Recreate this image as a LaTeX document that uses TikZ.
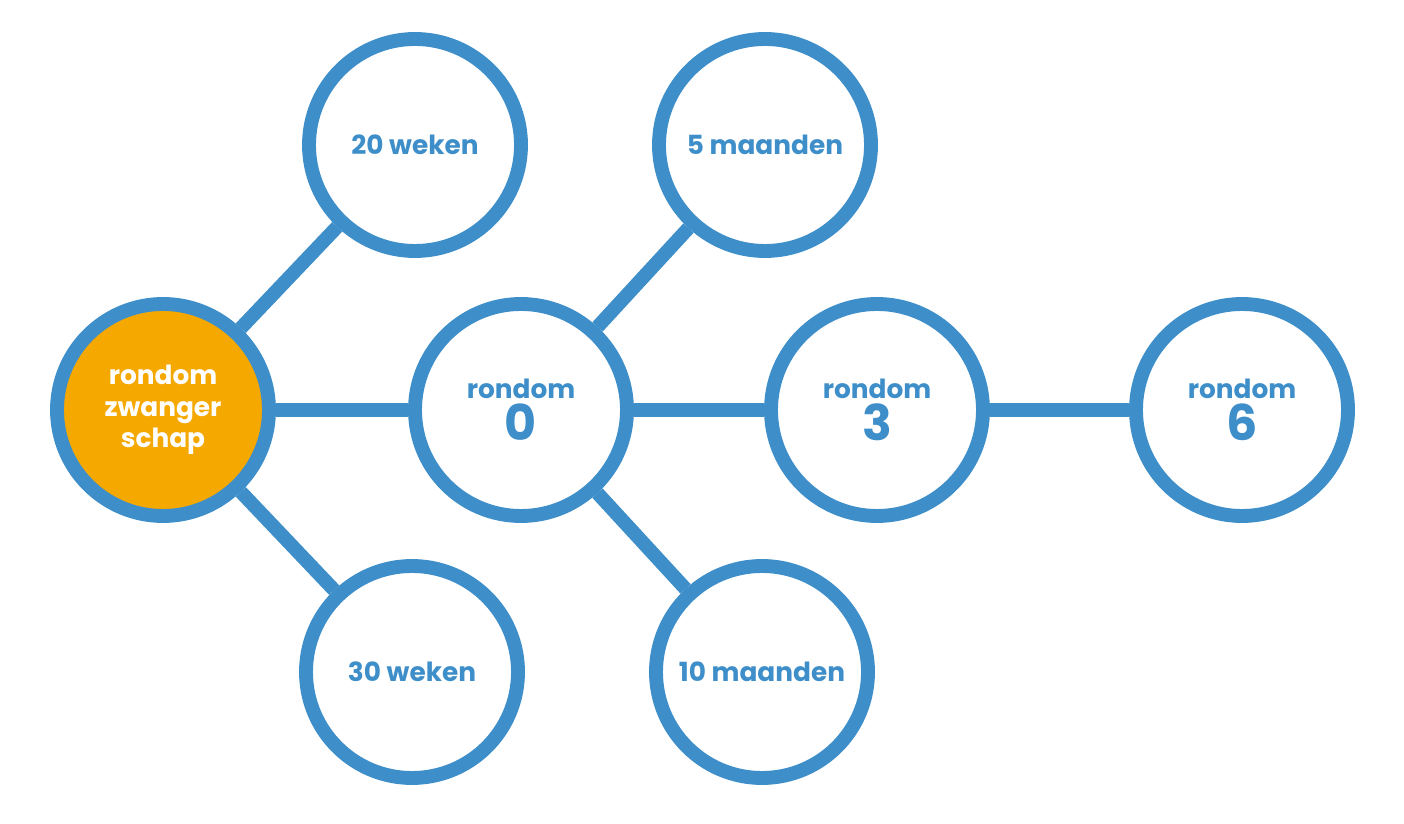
\documentclass[tikz,border=0pt]{standalone}
\usepackage{fontspec}
\setmainfont{Poppins}
\definecolor{ringblue}{HTML}{3D8EC9}
\definecolor{bump}{HTML}{F5A800}
\begin{document}
\begin{tikzpicture}[
    stage/.style={circle, draw=ringblue, line width=7.9pt, fill=white,
        minimum size=4.24cm, inner sep=0pt, text=ringblue, font=\fontsize{15}{18}\selectfont\bfseries,
        align=center},
    link/.style={draw=ringblue, line width=7.9pt}]
    \useasboundingbox (0,0) rectangle (28.08,16.48);
    \node[stage, fill=bump, text=white] (zw) at (3.26,8.28) {rondom\\zwanger\\schap};
    \node[stage] (w20) at (8.3,13.58) {20 weken};
    \node[stage] (w30) at (8.24,3.04) {30 weken};
    \node[stage] (m5) at (15.3,13.58) {5 maanden};
    \node[stage] (m10) at (15.24,3.04) {10 maanden};
    \node[stage] (r0) at (10.42,8.28) {rondom\\[2pt]{\fontsize{28}{30}\selectfont 0}};
    \node[stage] (r3) at (17.54,8.28) {rondom\\[2pt]{\fontsize{28}{30}\selectfont 3}};
    \node[stage] (r6) at (24.84,8.28) {rondom\\[2pt]{\fontsize{28}{30}\selectfont 6}};

    \draw[link] (zw) -- (w20);
    \draw[link] (zw) -- (w30);
    \draw[link] (zw) -- (r0);
    \draw[link] (r0) -- (m5);
    \draw[link] (r0) -- (m10);
    \draw[link] (r0) -- (r3);
    \draw[link] (r3) -- (r6);
\end{tikzpicture}
\end{document}
